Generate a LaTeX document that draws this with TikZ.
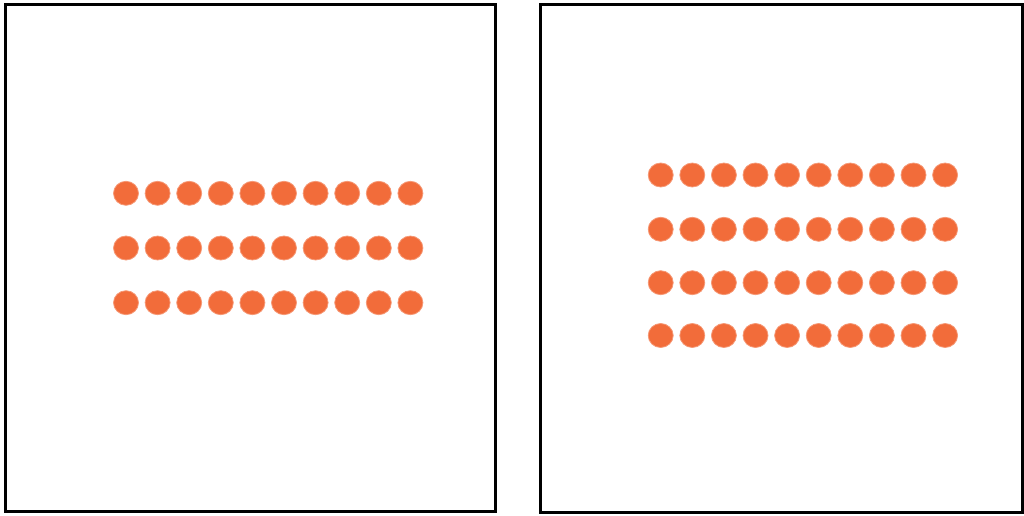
\documentclass[tikz,border=0pt]{standalone}
\definecolor{dotorange}{RGB}{242,108,58}
\tikzset{
  frame/.style={draw=black, line width=3pt},
  dot/.style={fill=dotorange, draw=dotorange!70!white, line width=0.8pt}
}
\begin{document}
\begin{tikzpicture}[x=1pt,y=-1pt]
\useasboundingbox (0,0) rectangle (1024,516);
% frames
\draw[frame] (5,4.5) rectangle (495.5,511);
\draw[frame] (540.5,4.5) rectangle (1022.5,512);
% left dots: 3 rows x 10
\foreach \r/\yy in {1/193.3,2/248,3/302.7}{
  \foreach \c in {0,...,9}{
    \fill[dot] ({126+31.6*\c},\yy) ellipse (12.5 and 12);
  }
}
% right dots: 4 rows x 10
\foreach \r/\yy in {1/175,2/229.3,3/282.7,4/335.5}{
  \foreach \c in {0,...,9}{
    \fill[dot] ({660.7+31.6*\c},\yy) ellipse (12.5 and 12);
  }
}
\end{tikzpicture}
\end{document}
